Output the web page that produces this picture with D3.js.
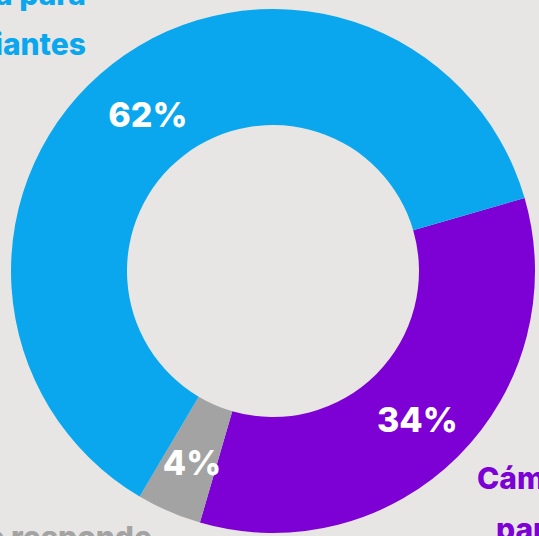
<!DOCTYPE html>
<html lang="es">
  <head>
    <meta charset="UTF-8">
    <title>Donut</title>
    <style>
      html, body { margin: 0; padding: 0; background: #e8e6e4; overflow: hidden; }
      text { font-family: Inter, "Open Sans", sans-serif; font-weight: 800; }
    </style>
  </head>
  <body>
    <svg id="chart"></svg>
    <script src="https://cdn.jsdelivr.net/npm/d3@7"></script>
    <script>
      // Values, in drawing order (clockwise from the purple slice)
      var categories = ["Cámara para docentes", "No responde", "Cámara para estudiantes"];
      var shares = [34, 4, 62];
      var colors = ["#7d00d4", "#a3a3a3", "#0aa7ee"];

      var width = 539, height = 536;
      var cx = 273, cy = 271;
      var outerR = 262, innerR = 146;

      var svg = d3.select("#chart")
        .attr("width", width)
        .attr("height", height);

      var g = svg.append("g")
        .attr("transform", "translate(" + cx + "," + cy + ")");

      var start = 73.8 * Math.PI / 180;

      var pie = d3.pie()
        .sort(null)
        .value(function(d) { return d; })
        .startAngle(start)
        .endAngle(start + 2 * Math.PI);

      var arc = d3.arc()
        .innerRadius(innerR)
        .outerRadius(outerR);

      var arcs = pie(shares);

      g.selectAll("path")
        .data(arcs)
        .enter()
        .append("path")
        .attr("d", arc)
        .attr("fill", function(d, i) { return colors[i]; });

      // percentage labels on the ring
      g.selectAll(".pct")
        .data(arcs)
        .enter()
        .append("text")
        .attr("class", "pct")
        .attr("transform", function(d) { return "translate(" + arc.centroid(d) + ")"; })
        .attr("text-anchor", "middle")
        .attr("dy", "0.5em")
        .attr("fill", "#fff")
        .style("font-size", "34px")
        .text(function(d) { return d.data + "%"; });

      // outer labels (cut by the frame, as in the source)
      var outer = svg.append("g").style("font-size", "30px");

      var blue = outer.append("text")
        .attr("fill", colors[2])
        .attr("text-anchor", "end");
      blue.append("tspan").attr("x", 86).attr("y", 5).text("Cámara para");
      blue.append("tspan").attr("x", 86).attr("y", 55).text("estudiantes");

      var purple = outer.append("text")
        .attr("fill", colors[0]);
      purple.append("tspan").attr("x", 477).attr("y", 489).text("Cámara");
      purple.append("tspan").attr("x", 496).attr("y", 540).text("para docentes");

      outer.append("text")
        .attr("fill", colors[1])
        .attr("text-anchor", "end")
        .attr("x", 152)
        .attr("y", 548)
        .text(categories[1]);
    </script>
  </body>
</html>
